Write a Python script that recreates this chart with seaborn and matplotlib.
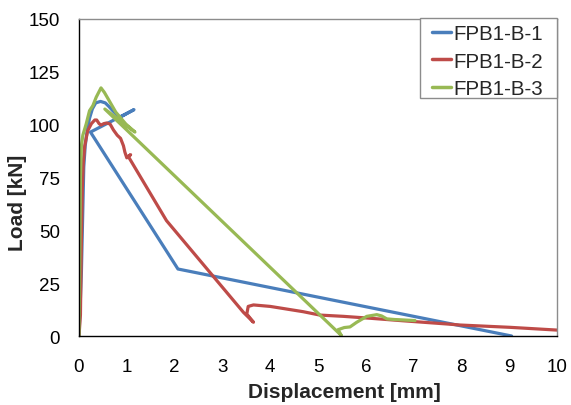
import numpy as np
import pandas as pd
import matplotlib
matplotlib.use("Agg")
import matplotlib.pyplot as plt
from matplotlib.patches import Rectangle
import seaborn as sns

# ---- data ----
b1_x = [0, 0.05, 0.08, 0.10, 0.13, 0.17, 0.22, 0.28, 0.35, 0.45, 0.55, 0.63, 0.71, 0.80, 0.86,
        1.15, 0.24, 2.07, 9.05]
b1_y = [0, 30, 60, 80, 90, 97, 103, 107.5, 110.3, 111, 110.3, 108.5, 106.5, 104.5, 103.5,
        107.1, 96.5, 31.7, 0]

b2_x = [0, 0.03, 0.05, 0.07, 0.09, 0.12, 0.18, 0.26, 0.33, 0.37, 0.42, 0.46, 0.52, 0.58, 0.65,
        0.72, 0.80, 0.87, 0.93, 0.96, 1.00, 1.08, 1.03, 1.83, 3.44, 3.65, 3.51, 3.54, 3.65,
        4.00, 4.69, 5.04, 5.53, 6.09, 6.78, 7.69, 7.97, 9.02, 10.0]
b2_y = [0, 10, 45, 70, 82, 90, 97, 100.5, 102.2, 102.2, 100.5, 99.8, 100.5, 100.8, 100.3,
        97.5, 95, 93.5, 90, 87, 84.3, 85.8, 85.0, 54.6, 11.2, 6.5, 10.4, 14.0, 14.7,
        14.0, 11.5, 9.9, 9.3, 8.4, 7.2, 5.7, 5.2, 4.1, 2.8]

b3_x = [0, 0.01, 0.02, 0.03, 0.05, 0.08, 0.15, 0.22, 0.29, 0.36, 0.46, 0.53, 0.63, 0.77, 0.98,
        1.17, 0.54, 5.49, 5.42, 5.55, 5.67, 5.81, 6.02, 6.23, 6.33, 6.44, 6.60, 6.78, 7.03]
b3_y = [0, 20, 50, 75, 90, 95, 100.3, 106.6, 109, 113, 117.4, 115.3, 111.4, 105.9, 100.3,
        96.5, 107.4, 0.2, 3.0, 4.0, 4.3, 6.5, 9.3, 10.1, 9.5, 8.1, 7.8, 7.6, 7.3]

series_names = ["FPB1-B-1", "FPB1-B-2", "FPB1-B-3"]
colors = ["#4A7EBB", "#BE4B48", "#98B954"]
x_ticks = list(range(0, 11))
y_ticks = [0, 25, 50, 75, 100, 125, 150]

frames = []
for name, xs, ys in zip(series_names, [b1_x, b2_x, b3_x], [b1_y, b2_y, b3_y]):
    frames.append(pd.DataFrame({"x": xs, "y": ys, "series": name}))
df = pd.concat(frames, ignore_index=True)

sns.set_theme(style="white")
plt.rcParams["font.family"] = ["Liberation Sans", "DejaVu Sans"]

W, H = 571, 406
fig = plt.figure(figsize=(W / 100, H / 100), dpi=100)
ax = fig.add_axes([79 / W, 1 - 337 / H, (557 - 79) / W, (337 - 20) / H])

sns.lineplot(data=df, x="x", y="y", hue="series", palette=colors, sort=False,
             estimator=None, units="series", linewidth=2.3, ax=ax)

ax.set_xlim(0, 10)
ax.set_ylim(0, 150)
ax.set_xticks(x_ticks)
ax.set_yticks(y_ticks)
ax.tick_params(axis="both", labelsize=13.5, colors="black")
ax.tick_params(axis="x", direction="inout", length=8, width=1, pad=12)
ax.tick_params(axis="y", direction="out", length=5, width=1, pad=8.5)
ax.set_xlabel("Displacement [mm]", fontsize=15, fontweight="bold")
ax.set_ylabel("Load [kN]", fontsize=15, fontweight="bold")
ax.xaxis.set_label_coords((344 - 79) / 478, (337 - 383) / 317)
ax.yaxis.set_label_coords((27 - 79) / 478, (337 - 203) / 317)

for s in ["left", "bottom"]:
    ax.spines[s].set_color("black")
    ax.spines[s].set_linewidth(1)
for s in ["top", "right"]:
    ax.spines[s].set_color("#8c8c8c")
    ax.spines[s].set_linewidth(1)

# legend frame (drawn as a plain box) and legend entries
frame = Rectangle((420 / W, 1 - 98.5 / H), 136.7 / W, (98.5 - 19.3) / H,
                  transform=fig.transFigure, facecolor="white", edgecolor="#8c8c8c",
                  linewidth=1, zorder=4, clip_on=False)
ax.add_patch(frame)
leg = ax.legend(loc="upper left", bbox_to_anchor=(431.7 / W, 1 - 25.3 / H),
                bbox_transform=fig.transFigure, borderaxespad=0, borderpad=0,
                fontsize=14.8, handlelength=0.93, handletextpad=0.12,
                labelspacing=0.4, frameon=False)
leg.set_zorder(6)
for line in leg.get_lines():
    line.set_linewidth(2.5)

fig.savefig("out.png", dpi=100)
